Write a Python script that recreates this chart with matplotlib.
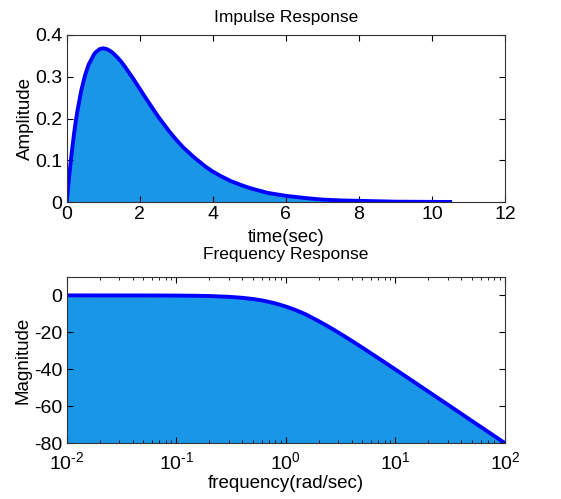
import matplotlib
matplotlib.use("Agg")
from matplotlib import pyplot as plt
from matplotlib.ticker import LogLocator, NullFormatter, FuncFormatter
import numpy as np

# impulse response
tiempo = [0, 0.05, 0.1, 0.15, 0.2, 0.25, 0.3, 0.4, 0.5, 0.6, 0.75, 0.8, 0.9,
          1.0, 1.1, 1.2, 1.25, 1.4, 1.5, 1.6, 1.8, 2.0, 2.2, 2.5, 2.8, 3.0,
          3.2, 3.5, 3.8, 4.0, 4.2, 4.5, 4.8, 5.0, 5.5, 6.0, 6.5, 7.0, 7.5,
          8.0, 9.0, 10.0, 10.5]
amplitud = [0, 0.048, 0.09, 0.129, 0.164, 0.195, 0.222, 0.268, 0.303, 0.329,
            0.354, 0.359, 0.366, 0.368, 0.366, 0.361, 0.358, 0.345, 0.335,
            0.323, 0.298, 0.271, 0.244, 0.205, 0.17, 0.149, 0.13, 0.106,
            0.085, 0.073, 0.063, 0.05, 0.04, 0.034, 0.022, 0.015, 0.01, 0.006,
            0.004, 0.003, 0.001, 0.0005, 0.0003]

# frequency response (dB)
frecuencia = [0.01, 0.05, 0.1, 0.15, 0.2, 0.3, 0.4, 0.5, 0.6, 0.7, 0.8, 1.0,
              1.2, 1.5, 2.0, 2.5, 3.0, 4.0, 5.0, 7.0, 10.0, 15.0, 20.0, 30.0,
              50.0, 100.0]
magnitud = [0, -0.02, -0.09, -0.19, -0.34, -0.75, -1.3, -1.94, -2.66, -3.5,
            -4.3, -6.02, -7.7, -10.1, -13.98, -17.2, -20.0, -24.6, -28.3,
            -34.0, -40.1, -47.1, -52.1, -59.1, -68.0, -80.0]

relleno = '#1a96e6'
linea = '#0000ff'
plt.rcParams['font.family'] = ['Liberation Sans', 'DejaVu Sans']
plt.rcParams['font.size'] = 14
plt.rcParams['axes.unicode_minus'] = False
plt.rcParams['mathtext.fontset'] = 'custom'
plt.rcParams['mathtext.rm'] = 'Liberation Sans'
plt.rcParams['mathtext.it'] = 'Liberation Sans'
plt.rcParams['mathtext.default'] = 'regular'

def estilo(ax):
  ax.tick_params(direction='in', top=True, right=True, which='both', length=4,
                 labelsize=14, pad=3)
  ax.tick_params(which='minor', length=2.5)
  for s in ax.spines.values():
    s.set_color('#333333')

def potencia(v, pos):
  e = int(round(np.log10(v)))
  return r'$10^{\text{%d}}$' % e

fig = plt.figure(figsize=(5.61, 4.99), dpi=100)

ax1 = fig.add_axes([0.119, 0.595, 0.781, 0.335])
ax1.fill_between(tiempo, amplitud, 0, color=relleno, linewidth=0)
ax1.plot(tiempo, amplitud, color=linea, linewidth=2.8, solid_joinstyle='round')
ax1.set_xlim(0, 12)
ax1.set_ylim(0, 0.4)
ax1.set_xticks([0, 2, 4, 6, 8, 10, 12])
ax1.set_yticks([0, 0.1, 0.2, 0.3, 0.4])
ax1.set_yticklabels(['0', '0.1', '0.2', '0.3', '0.4'])
ax1.set_title("Impulse Response", fontsize=12.5, pad=9)
ax1.set_xlabel("time(sec)", fontsize=13.5, labelpad=4)
ax1.set_ylabel("Amplitude", fontsize=13.5, labelpad=1)
estilo(ax1)

ax2 = fig.add_axes([0.119, 0.112, 0.781, 0.333])
ax2.fill_between(frecuencia, magnitud, -80, color=relleno, linewidth=0)
ax2.plot(frecuencia, magnitud, color=linea, linewidth=2.8, solid_joinstyle='round')
ax2.set_xscale('log')
ax2.set_xlim(0.01, 100)
ax2.set_ylim(-80, 10)
ax2.set_yticks([0, -20, -40, -60, -80])
ax2.xaxis.set_major_formatter(FuncFormatter(potencia))
ax2.xaxis.set_minor_locator(LogLocator(base=10, subs=range(2, 10)))
ax2.xaxis.set_minor_formatter(NullFormatter())
ax2.set_title("Frequency Response", fontsize=12.5, pad=13)
ax2.set_xlabel("frequency(rad/sec)", fontsize=13.5, labelpad=1)
ax2.set_ylabel("Magnitude", fontsize=13.5, labelpad=2)
estilo(ax2)
ax2.tick_params(axis='x', which='major', pad=6)

fig.savefig("out.png", dpi=100)
